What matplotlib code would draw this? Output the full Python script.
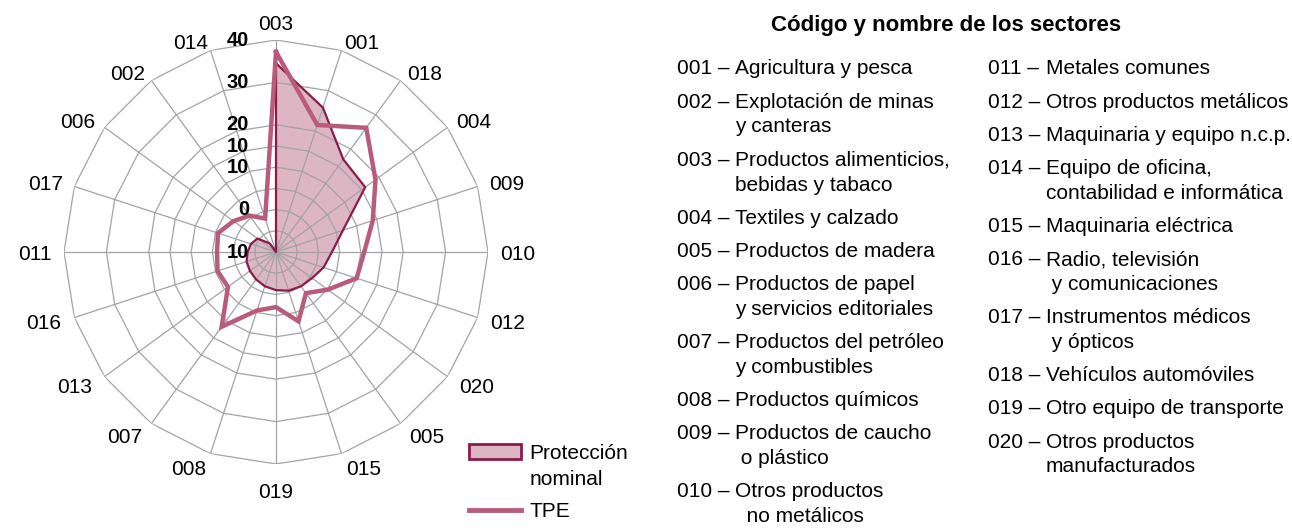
import numpy as np
import matplotlib
matplotlib.use("Agg")
import matplotlib.pyplot as plt
from matplotlib.patches import Patch
from matplotlib.lines import Line2D

plt.rcParams["font.family"] = ["Liberation Sans", "DejaVu Sans"]

# sectors clockwise from the top
sectors = ["003", "001", "018", "004", "009", "010", "012", "020", "005", "015",
           "019", "008", "007", "013", "016", "011", "017", "006", "002", "014"]
nominal = [34.5, 25.8, 17.0, 16.0, 6.6, 3.2, 1.8, 0.5, 0.0, -0.4,
           -1.0, -1.5, -2.0, -2.4, -2.7, -3.3, -3.8, -4.6, -7.5, -10.0]
tpe = [37.2, 21.5, 26.2, 19.0, 14.0, 10.8, 10.0, 5.1, 2.0, 7.2,
       3.0, 4.5, 11.8, 4.0, 4.5, 3.9, 4.4, 2.4, 0.6, -1.7]

rings = [-5, 0, 5, 10, 15, 20, 30, 40]
r_ticks = [40, 30, 20, 15, 10, 0, -10]
r_tick_labels = ["40", "30", "20", "10", "10", "0", "10"]

col1 = [("001", ["Agricultura y pesca"]),
        ("002", ["Explotación de minas", "y canteras"]),
        ("003", ["Productos alimenticios,", "bebidas y tabaco"]),
        ("004", ["Textiles y calzado"]),
        ("005", ["Productos de madera"]),
        ("006", ["Productos de papel", "y servicios editoriales"]),
        ("007", ["Productos del petróleo", "y combustibles"]),
        ("008", ["Productos químicos"]),
        ("009", ["Productos de caucho", " o plástico"]),
        ("010", ["Otros productos", "  no metálicos"])]
col2 = [("011", ["Metales comunes"]),
        ("012", ["Otros productos metálicos"]),
        ("013", ["Maquinaria y equipo n.c.p."]),
        ("014", ["Equipo de oficina,", "contabilidad e informática"]),
        ("015", ["Maquinaria eléctrica"]),
        ("016", ["Radio, televisión", " y comunicaciones"]),
        ("017", ["Instrumentos médicos", " y ópticos"]),
        ("018", ["Vehículos automóviles"]),
        ("019", ["Otro equipo de transporte"]),
        ("020", ["Otros productos", "manufacturados"])]

W, H = 1292, 531
fill_c = "#dcb6c3"
edge_c = "#8c1a4b"
tpe_c = "#b95c7a"
grid_c = "#a3a3a3"

fig = plt.figure(figsize=(W / 100, H / 100), dpi=100)
cx, cy, R = 276, 252, 212
ax = fig.add_axes([(cx - R) / W, 1 - (cy + R) / H, 2 * R / W, 2 * R / H], projection="polar")
ax.set_theta_zero_location("N")
ax.set_theta_direction(-1)
ax.set_ylim(-10, 40)
ax.grid(False)
ax.set_xticks([])
ax.set_yticks([])
ax.spines["polar"].set_visible(False)
ax.patch.set_alpha(0)

theta = np.deg2rad(np.arange(len(sectors)) * 360 / len(sectors))
th_c = np.append(theta, theta[0])

# polygon grid
for v in rings:
    ax.plot(th_c, [v] * len(th_c), color=grid_c, lw=0.9, zorder=2)
for t in theta:
    ax.plot([t, t], [-10, 40], color=grid_c, lw=0.9, zorder=2)

nom_c = np.append(nominal, nominal[0])
tpe_cl = np.append(tpe, tpe[0])
ax.fill(th_c, nom_c, facecolor=fill_c, edgecolor="none", zorder=1)
ax.plot(th_c, nom_c, color=edge_c, lw=1.6, zorder=3)
ax.plot(th_c, tpe_cl, color=tpe_c, lw=3.2, zorder=4, solid_joinstyle="miter")

# sector labels around the web, excel style
for t, s in zip(theta, sectors):
    sn, cs = np.sin(t), np.cos(t)
    if abs(sn) < 0.1:
        d = 17 if cs > 0 else 27
        ha = "center"
    else:
        d = 8 + 6 * max(0, -cs) + 4 * abs(sn)
        ha = "left" if sn > 0 else "right"
    ax.text(t, (R + d) / R * 50 - 10, s, ha=ha, va="center_baseline", fontsize=15)

# radial labels
for v, lbl in zip(r_ticks, r_tick_labels):
    ax.annotate(lbl, xy=(0, v), xytext=(-19.5, 0), textcoords="offset points",
                ha="right", va="center", fontsize=14.5, fontweight="bold", zorder=5)

# legend
fig.legend([Patch(facecolor=fill_c, edgecolor=edge_c, lw=2), Line2D([], [], color="none")],
           ["Protección", "nominal"], loc="upper left",
           bbox_to_anchor=(469 / W, 1 - 444 / H), frameon=False, fontsize=15,
           handlelength=2.5, handletextpad=0.4, labelspacing=0.35,
           borderpad=0, borderaxespad=0)
fig.legend([Line2D([], [], color=tpe_c, lw=3.5)], ["TPE"], loc="upper left",
           bbox_to_anchor=(469 / W, 1 - 502 / H), frameon=False, fontsize=15,
           handlelength=2.5, handletextpad=0.4, borderpad=0, borderaxespad=0)

# sector names on the right
fig.text(946 / W, 1 - 26 / H, "Código y nombre de los sectores", ha="center",
         va="center", fontsize=16, fontweight="bold")


def draw_column(entries, x_code, x_desc, y0, step=33.2, line_step=24.8):
    y = y0
    for code, lines in entries:
        fig.text(x_code / W, 1 - y / H, code + " –", ha="left", va="center", fontsize=15)
        for j, line in enumerate(lines):
            if j > 0:
                y += line_step
            fig.text(x_desc / W, 1 - y / H, line, ha="left", va="center", fontsize=15)
        y += step


draw_column(col1, 677, 735, 69)
draw_column(col2, 988, 1046, 69)

fig.savefig("out.png", dpi=100)
